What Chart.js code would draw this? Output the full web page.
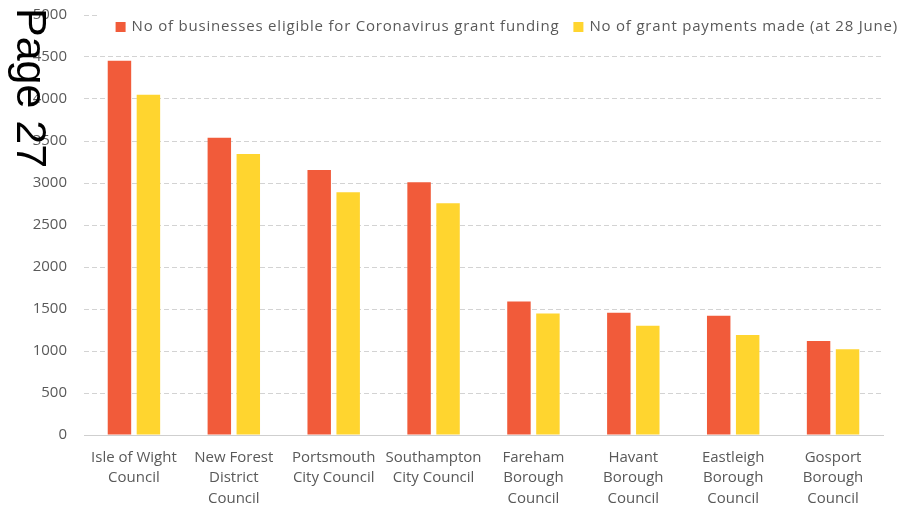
<!DOCTYPE html>
<html>
<head>
<meta charset="utf-8">
<script src="https://cdn.jsdelivr.net/npm/chart.js@4"></script>
<style>
  body { margin: 0; background: #fff; }
  #wrap { width: 901px; height: 507px; }
</style>
</head>
<body>
<div id="wrap"><canvas id="grafico" width="901" height="507"></canvas></div>
<script>
// data
const councils = [
  ["Isle of Wight", "Council"],
  ["New Forest", "District", "Council"],
  ["Portsmouth", "City Council"],
  ["Southampton", "City Council"],
  ["Fareham", "Borough", "Council"],
  ["Havant", "Borough", "Council"],
  ["Eastleigh", "Borough", "Council"],
  ["Gosport", "Borough", "Council"]
];
const eligible = [4455, 3540, 3155, 3010, 1590, 1455, 1420, 1120];
const paid = [4050, 3345, 2890, 2760, 1445, 1300, 1190, 1020];
const yTicks = [0, 500, 1000, 1500, 2000, 2500, 3000, 3500, 4000, 4500, 5000];

const seriesNames = [
  "No of businesses eligible for Coronavirus grant funding",
  "No of grant payments made (at 28 June)"
];
const colores = ["#F15B3A", "#FFD52F"];
const gris = "#595959";
const fuente = "'Open Sans', Lato, sans-serif";

// legend sits inside the plot like the Excel one, so draw it ourselves
const leyendaPlugin = {
  id: "leyenda",
  afterDraw(chart) {
    const ctx = chart.ctx;
    ctx.save();
    ctx.font = "15px " + fuente;
    ctx.letterSpacing = "0.8px";
    ctx.textBaseline = "middle";
    const caja = 10, hueco = 6, entre = 14, yMid = 27;
    const anchos = chart.data.datasets.map(d => ctx.measureText(d.label).width);
    let total = 0;
    anchos.forEach((w, i) => { total += caja + hueco + w + (i > 0 ? entre : 0); });
    let x = chart.width - 3 - total;
    ctx.fillStyle = "#fff";
    ctx.fillRect(x - 16, 4, chart.width - x + 16, 38);
    chart.data.datasets.forEach((d, i) => {
      ctx.fillStyle = d.backgroundColor;
      ctx.fillRect(x, yMid - 5, caja, caja);
      ctx.fillStyle = gris;
      ctx.fillText(d.label, x + caja + hueco, yMid);
      x += caja + hueco + anchos[i] + entre;
    });

    // "Page 27" stamp running down the left edge
    ctx.letterSpacing = "0px";
    ctx.translate(17, 8);
    ctx.rotate(Math.PI / 2);
    ctx.font = "43px 'Liberation Sans', Arial, sans-serif";
    ctx.textBaseline = "alphabetic";
    ctx.fillStyle = "#000";
    ctx.fillText("Page 27", 0, 0);
    ctx.restore();
  }
};

new Chart(document.getElementById("grafico").getContext("2d"), {
  type: "bar",
  data: {
    labels: councils,
    datasets: [
      { label: seriesNames[0], data: eligible, backgroundColor: colores[0] },
      { label: seriesNames[1], data: paid, backgroundColor: colores[1] }
    ]
  },
  options: {
    responsive: false,
    animation: false,
    layout: { padding: { top: 15, right: 18, bottom: 0, left: 0 } },
    datasets: {
      bar: { categoryPercentage: 0.58, barPercentage: 0.81, borderWidth: 0 }
    },
    plugins: {
      legend: { display: false },
      tooltip: { enabled: false }
    },
    scales: {
      x: {
        grid: { display: false, drawTicks: false },
        border: { display: true, color: "#cfcfcf", width: 1 },
        ticks: {
          color: gris,
          font: { family: fuente, size: 15, lineHeight: 1.37 },
          padding: 12,
          maxRotation: 0,
          autoSkip: false
        },
        afterFit(scale) { scale.height = 72; }
      },
      y: {
        min: 0,
        max: 5000,
        grid: { color: "#d3d3d3", lineWidth: 1, drawTicks: false },
        border: { display: false, dash: [5, 3] },
        ticks: {
          color: gris,
          font: { family: fuente, size: 15 },
          padding: 17,
          callback: v => String(v)
        },
        afterBuildTicks(scale) { scale.ticks = yTicks.map(v => ({ value: v })); },
        afterFit(scale) {
          scale.width = 84;
          scale.paddingTop = 0;
          scale.paddingBottom = 0;
        }
      }
    }
  },
  plugins: [leyendaPlugin]
});
</script>
</body>
</html>
